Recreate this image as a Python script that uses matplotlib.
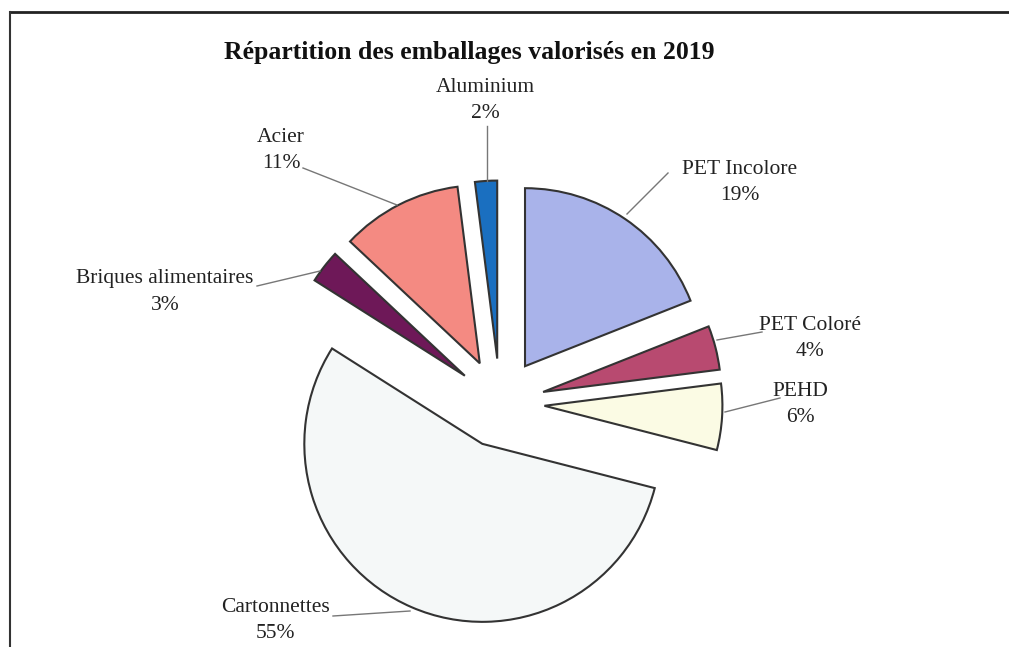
import matplotlib
matplotlib.use("Agg")
import matplotlib.pyplot as plt
from matplotlib.lines import Line2D

plt.rcParams['font.family'] = ['Liberation Serif', 'DejaVu Serif']

# données
categories = ["PET Incolore", "PET Coloré", "PEHD", "Cartonnettes",
              "Briques alimentaires", "Acier", "Aluminium"]
values = [19, 4, 6, 55, 3, 11, 2]
colors = ["#a9b3ea", "#b84a70", "#fbfbe4", "#f5f8f8",
          "#6e1858", "#f48a82", "#1a6fc0"]
title = "Répartition des emballages valorisés en 2019"

W, H = 1009, 647
R = 178.0          # rayon en pixels
CX, CY = 500, 403  # centre du camembert (pixels, origine en haut)


def px(x, y):
    """pixels image -> coordonnées données"""
    return (x - CX) / R, (CY - y) / R


fig = plt.figure(figsize=(W / 100, H / 100), dpi=100)
ax = fig.add_axes([0, 0, 1, 1])

ax.pie(values, colors=colors, startangle=90, counterclock=False,
       explode=[0.25] * len(values), radius=1.0, center=(0, 0),
       wedgeprops=dict(edgecolor="#333333", linewidth=1.5))

# le pie() impose ses propres limites : on les remet après
ax.set_xlim(-CX / R, (W - CX) / R)
ax.set_ylim(-(H - CY) / R, CY / R)
ax.set_aspect("equal")
ax.axis("off")

# étiquettes : (texte centre x, y), segment de rappel (début, fin)
label_pos = {
    "PET Incolore": ((740, 182), [(668, 173), (627, 214)]),
    "PET Coloré": ((810, 338), [(762, 332), (717, 340)]),
    "PEHD": ((800, 404), [(780, 398), (725, 412)]),
    "Cartonnettes": ((275, 621), [(333, 616), (410, 611)]),
    "Briques alimentaires": ((165, 292), [(257, 286), (320, 271)]),
    "Acier": ((281, 150), [(303, 168), (397, 205)]),
    "Aluminium": ((485, 101), [(487, 126), (487, 181)]),
}

for cat, val in zip(categories, values):
    (tx, ty), seg = label_pos[cat]
    x0, y0 = px(tx, ty)
    ax.text(x0, y0, f"{cat}\n{val}%", ha="center", va="center",
            fontsize=15.5, color="#222222", linespacing=1.5)
    xs, ys = zip(*[px(a, b) for a, b in seg])
    ax.plot(xs, ys, color="#777777", lw=1.0)

tx, ty = px(469, 53)
ax.text(tx, ty, title, ha="center", va="center", fontsize=18.5,
        fontweight="bold", color="#111111")

# cadre (haut et gauche)
fig.add_artist(Line2D([10 / W, 1], [1 - 12 / H, 1 - 12 / H],
                      transform=fig.transFigure, color="#222222", lw=2))
fig.add_artist(Line2D([10 / W, 10 / W], [0, 1 - 12 / H],
                      transform=fig.transFigure, color="#333333", lw=1.5))

fig.savefig("out.png", dpi=100)
